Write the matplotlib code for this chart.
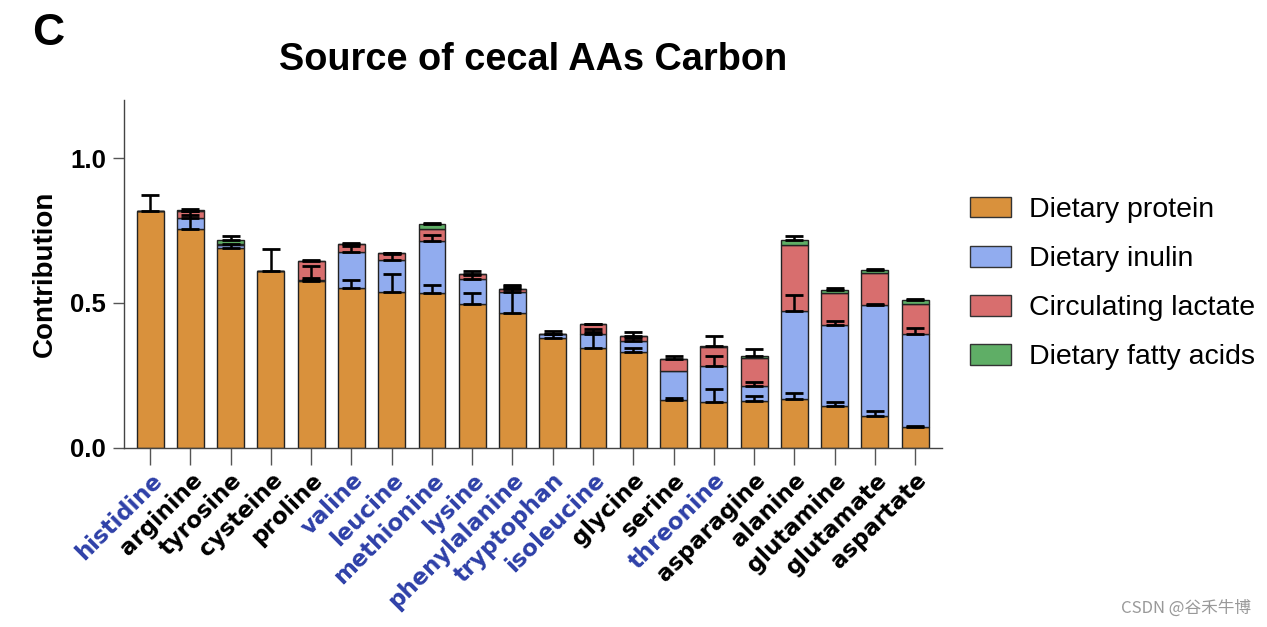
import numpy as np
import matplotlib
matplotlib.use('Agg')
import matplotlib.pyplot as plt
from matplotlib.patches import Patch

plt.rcParams['font.family'] = ['Liberation Sans', 'DejaVu Sans']

# amino acids, left to right
aas = ['histidine', 'arginine', 'tyrosine', 'cysteine', 'proline', 'valine',
       'leucine', 'methionine', 'lysine', 'phenylalanine', 'tryptophan',
       'isoleucine', 'glycine', 'serine', 'threonine', 'asparagine',
       'alanine', 'glutamine', 'glutamate', 'aspartate']
essential = ['histidine', 'valine', 'leucine', 'methionine', 'lysine',
             'phenylalanine', 'tryptophan', 'isoleucine', 'threonine']

# stacked contributions (segment heights)
protein = [0.818, 0.755, 0.690, 0.612, 0.575, 0.550, 0.538, 0.536, 0.497, 0.464,
           0.378, 0.346, 0.332, 0.165, 0.159, 0.161, 0.168, 0.145, 0.111, 0.073]
inulin = [0.0, 0.038, 0.009, 0.0, 0.006, 0.126, 0.111, 0.178, 0.086, 0.073,
          0.016, 0.048, 0.038, 0.102, 0.125, 0.054, 0.305, 0.278, 0.383, 0.321]
lactate = [0.0, 0.024, 0.003, 0.0, 0.065, 0.027, 0.022, 0.041, 0.017, 0.012,
           0.0, 0.032, 0.017, 0.041, 0.064, 0.095, 0.228, 0.113, 0.108, 0.103]
fatty = [0.0, 0.003, 0.014, 0.0, 0.0, 0.0, 0.002, 0.017, 0.0, 0.0,
         0.0, 0.0, 0.0, 0.0, 0.004, 0.008, 0.017, 0.009, 0.012, 0.014]

# upper error bars (SEM) per segment
protein_err = [0.054, 0.050, 0.015, 0.075, 0.012, 0.030, 0.061, 0.026, 0.037, 0.098,
               0.016, 0.054, 0.012, 0.008, 0.046, 0.019, 0.022, 0.012, 0.017, 0.004]
inulin_err = [0.0, 0.025, 0.0, 0.0, 0.048, 0.021, 0.020, 0.021, 0.015, 0.015,
              0.008, 0.015, 0.009, 0.0, 0.034, 0.013, 0.053, 0.014, 0.003, 0.021]
lactate_err = [0.0, 0.007, 0.0, 0.0, 0.003, 0.003, 0.003, 0.0, 0.009, 0.010,
               0.0, 0.002, 0.012, 0.008, 0.0, 0.0, 0.0, 0.0, 0.0, 0.0]
fatty_err = [0.0, 0.0, 0.016, 0.0, 0.0, 0.0, 0.0, 0.003, 0.0, 0.0,
             0.0, 0.0, 0.0, 0.0, 0.035, 0.023, 0.013, 0.007, 0.004, 0.004]

labels = ['Dietary protein', 'Dietary inulin', 'Circulating lactate', 'Dietary fatty acids']
colors = ['#D9913C', '#91ACEF', '#D86E6E', '#5FAE66']

fig = plt.figure(figsize=(12.67, 6.27), dpi=100)
ax = fig.add_axes([0.0979, 0.2855, 0.6456, 0.555])

x = np.arange(len(aas))
w = 0.67
bottom = np.zeros(len(aas))
for vals, errs, c, lab in zip([protein, inulin, lactate, fatty],
                              [protein_err, inulin_err, lactate_err, fatty_err],
                              colors, labels):
    vals = np.array(vals)
    errs = np.array(errs)
    ax.bar(x, vals, w, bottom=bottom, color=c, edgecolor='#222222',
           linewidth=1.0, label=lab, zorder=2)
    top = bottom + vals
    m = errs > 0
    ax.errorbar(x[m], top[m], yerr=[np.zeros(m.sum()), errs[m]], fmt='none',
                ecolor='black', elinewidth=1.8, capsize=6.5, capthick=2.0, zorder=3)
    bottom = top

ax.set_xlim(-0.65, 19.67)
ax.set_ylim(0, 1.2)
ax.set_yticks([0.0, 0.5, 1.0])
ax.set_yticklabels(['0.0', '0.5', '1.0'], fontsize=18.5, fontweight='bold')
ax.set_xticks(x)
ax.set_xticklabels(aas, rotation=45, ha='right', rotation_mode='anchor',
                   fontsize=16.5, fontweight='bold', family=['DejaVu Sans'])
for t in ax.get_xticklabels():
    t.set_color('#2E40A8' if t.get_text() in essential else 'black')
ax.tick_params(axis='x', length=12, width=1, color='#555555', pad=3)
ax.tick_params(axis='y', length=8, width=1, color='#555555', pad=5)
for s in ['top', 'right']:
    ax.spines[s].set_visible(False)
for s in ['left', 'bottom']:
    ax.spines[s].set_color('#444444')
    ax.spines[s].set_linewidth(1.0)

ax.set_ylabel('Contribution', fontsize=20, fontweight='bold', labelpad=9)

fig.text(0.421, 0.905, 'Source of cecal AAs Carbon', ha='center', va='center',
         fontsize=27.3, fontweight='bold')
fig.text(0.0379, 0.947, 'C', ha='center', va='center', fontsize=32, fontweight='bold')

handles = [Patch(facecolor=c, edgecolor='#333333', label=l) for c, l in zip(colors, labels)]
fig.legend(handles=handles, loc='center left', bbox_to_anchor=(0.745, 0.548),
           frameon=False, fontsize=20.5, handlelength=1.45, handleheight=0.75,
           handletextpad=0.63, labelspacing=0.8)

fig.text(0.987, 0.03, 'CSDN @谷禾牛博', ha='right', va='center', fontsize=12,
         color='#999999', family=['Noto Sans CJK SC', 'DejaVu Sans'])

fig.savefig('out.png', dpi=100)
